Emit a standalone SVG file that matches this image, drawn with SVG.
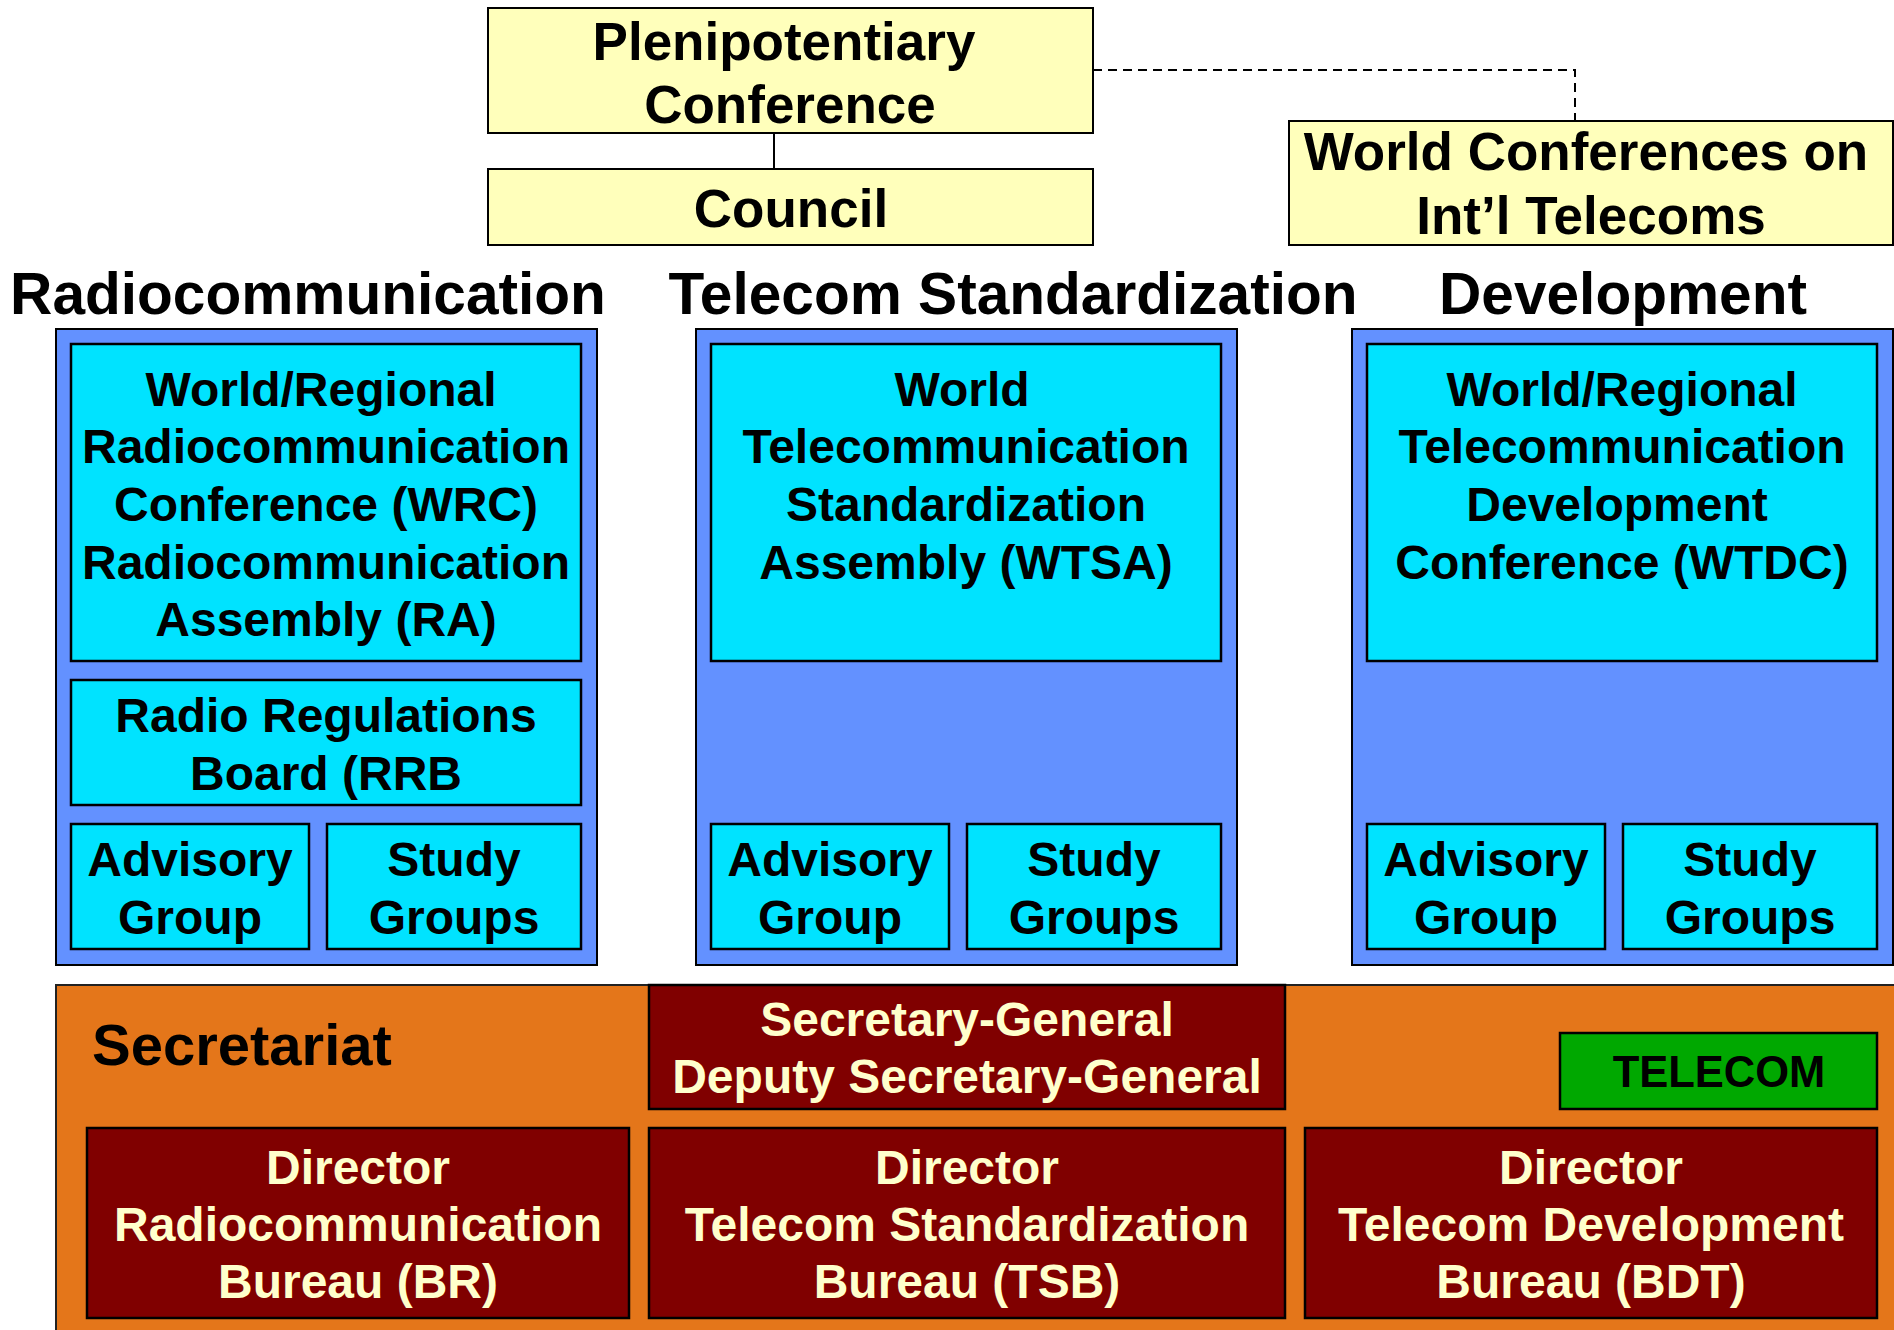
<svg xmlns="http://www.w3.org/2000/svg" width="1894" height="1330" viewBox="0 0 1894 1330">
<style>
text{font-family:"Liberation Sans",Arial,Helvetica,sans-serif;font-weight:bold;text-anchor:middle;fill:#000}
.yel{fill:#FFFFBB;stroke:#000;stroke-width:2}
.blue{fill:#6391FF;stroke:#000;stroke-width:2}
.cyan{fill:#00E3FF;stroke:#000;stroke-width:2.5}
.org{fill:#E4761A;stroke:#222;stroke-width:2}
.dred{fill:#800000;stroke:#000;stroke-width:2.5}
.grn{fill:#00A800;stroke:#000;stroke-width:2.5}
.t53{font-size:53px}
.t58{font-size:58.6px}
.t48{font-size:48px}
.cream{fill:#FFFFCC}
.conn{fill:none;stroke:#000;stroke-width:2}
.dash{stroke-dasharray:9 6}
</style>
<rect width="1894" height="1330" fill="#fff"/>

<g id="connectors">
  <line class="conn" x1="774" y1="133" x2="774" y2="169"/>
  <polyline class="conn dash" points="1093,70 1575,70 1575,121"/>
</g>

<g id="plenipotentiary">
  <rect class="yel" x="488" y="8" width="605" height="125"/>
  <text class="t53" x="784" y="60">Plenipotentiary</text>
  <text class="t53" x="790" y="123">Conference</text>
</g>
<g id="council">
  <rect class="yel" x="488" y="169" width="605" height="76"/>
  <text class="t53" x="791" y="227">Council</text>
</g>
<g id="wcit">
  <rect class="yel" x="1289" y="121" width="604" height="124"/>
  <text class="t53" x="1586" y="170">World Conferences on</text>
  <text class="t53" x="1591" y="234">Int’l Telecoms</text>
</g>

<g id="heading-radio"><text class="t58" x="308" y="314">Radiocommunication</text></g>
<g id="heading-std"><text class="t58" x="1013" y="314">Telecom Standardization</text></g>
<g id="heading-dev"><text class="t58" x="1623" y="314">Development</text></g>

<g id="sector-radio">
  <rect class="blue" x="56" y="329" width="541" height="636"/>
  <g id="wrc">
    <rect class="cyan" x="71" y="344" width="510" height="317"/>
    <text class="t48" x="321" y="406">World/Regional</text>
    <text class="t48" x="326" y="463">Radiocommunication</text>
    <text class="t48" x="326" y="521">Conference (WRC)</text>
    <text class="t48" x="326" y="579">Radiocommunication</text>
    <text class="t48" x="326" y="636">Assembly (RA)</text>
  </g>
  <g id="rrb">
    <rect class="cyan" x="71" y="680" width="510" height="125"/>
    <text class="t48" x="326" y="732">Radio Regulations</text>
    <text class="t48" x="326" y="790">Board (RRB</text>
  </g>
  <g id="radio-advisory">
    <rect class="cyan" x="71" y="824" width="238" height="125"/>
    <text class="t48" x="190" y="876">Advisory</text>
    <text class="t48" x="190" y="934">Group</text>
  </g>
  <g id="radio-study">
    <rect class="cyan" x="327" y="824" width="254" height="125"/>
    <text class="t48" x="454" y="876">Study</text>
    <text class="t48" x="454" y="934">Groups</text>
  </g>
</g>

<g id="sector-std">
  <rect class="blue" x="696" y="329" width="541" height="636"/>
  <g id="wtsa">
    <rect class="cyan" x="711" y="344" width="510" height="317"/>
    <text class="t48" x="962" y="406">World</text>
    <text class="t48" x="966" y="463">Telecommunication</text>
    <text class="t48" x="966" y="521">Standardization</text>
    <text class="t48" x="966" y="579">Assembly (WTSA)</text>
  </g>
  <g id="std-advisory">
    <rect class="cyan" x="711" y="824" width="238" height="125"/>
    <text class="t48" x="830" y="876">Advisory</text>
    <text class="t48" x="830" y="934">Group</text>
  </g>
  <g id="std-study">
    <rect class="cyan" x="967" y="824" width="254" height="125"/>
    <text class="t48" x="1094" y="876">Study</text>
    <text class="t48" x="1094" y="934">Groups</text>
  </g>
</g>

<g id="sector-dev">
  <rect class="blue" x="1352" y="329" width="541" height="636"/>
  <g id="wtdc">
    <rect class="cyan" x="1367" y="344" width="510" height="317"/>
    <text class="t48" x="1622" y="406">World/Regional</text>
    <text class="t48" x="1622" y="463">Telecommunication</text>
    <text class="t48" x="1617" y="521">Development</text>
    <text class="t48" x="1622" y="579">Conference (WTDC)</text>
  </g>
  <g id="dev-advisory">
    <rect class="cyan" x="1367" y="824" width="238" height="125"/>
    <text class="t48" x="1486" y="876">Advisory</text>
    <text class="t48" x="1486" y="934">Group</text>
  </g>
  <g id="dev-study">
    <rect class="cyan" x="1623" y="824" width="254" height="125"/>
    <text class="t48" x="1750" y="876">Study</text>
    <text class="t48" x="1750" y="934">Groups</text>
  </g>
</g>

<g id="secretariat">
  <rect class="org" x="56" y="985" width="1860" height="370"/>
  <text class="t58" x="92" y="1065" style="text-anchor:start;font-size:58px">Secretariat</text>
  <g id="secretary-general">
    <rect class="dred" x="649" y="985" width="636" height="124"/>
    <text class="t48 cream" x="967" y="1036">Secretary-General</text>
    <text class="t48 cream" x="967" y="1093">Deputy Secretary-General</text>
  </g>
  <g id="telecom">
    <rect class="grn" x="1560" y="1033" width="317" height="76"/>
    <text x="1719" y="1087" style="font-size:43.5px">TELECOM</text>
  </g>
  <g id="director-br">
    <rect class="dred" x="87" y="1128" width="542" height="190"/>
    <text class="t48 cream" x="358" y="1184">Director</text>
    <text class="t48 cream" x="358" y="1241">Radiocommunication</text>
    <text class="t48 cream" x="358" y="1298">Bureau (BR)</text>
  </g>
  <g id="director-tsb">
    <rect class="dred" x="649" y="1128" width="636" height="190"/>
    <text class="t48 cream" x="967" y="1184">Director</text>
    <text class="t48 cream" x="967" y="1241">Telecom Standardization</text>
    <text class="t48 cream" x="967" y="1298">Bureau (TSB)</text>
  </g>
  <g id="director-bdt">
    <rect class="dred" x="1305" y="1128" width="572" height="190"/>
    <text class="t48 cream" x="1591" y="1184">Director</text>
    <text class="t48 cream" x="1591" y="1241">Telecom Development</text>
    <text class="t48 cream" x="1591" y="1298">Bureau (BDT)</text>
  </g>
</g>
</svg>
